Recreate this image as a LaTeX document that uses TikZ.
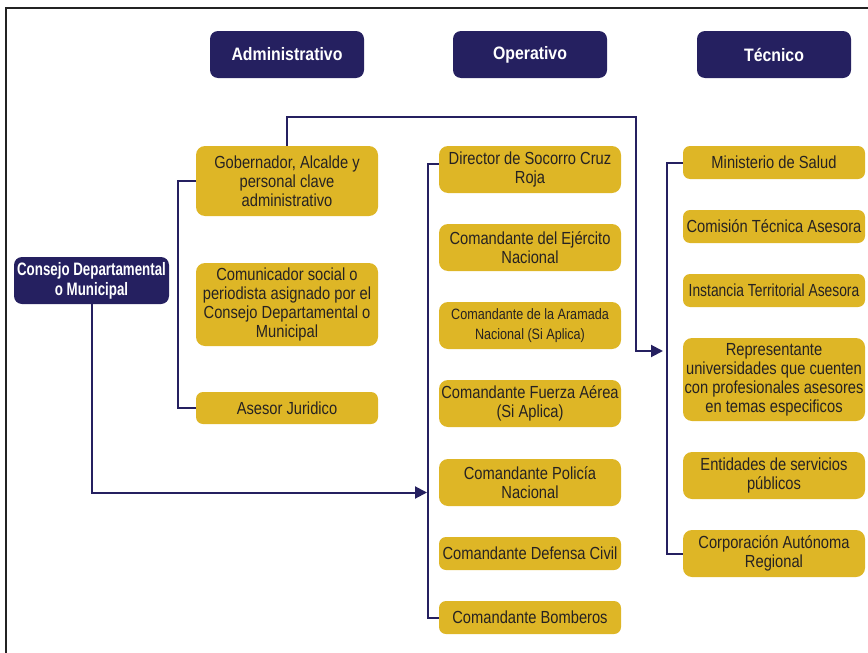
\documentclass[tikz,border=0pt]{standalone}
\usepackage{fontspec}
\usetikzlibrary{arrows.meta}
\newfontfamily\nf{Liberation Sans}[FakeStretch=0.84]
\newfontfamily\nnf{Liberation Sans}[FakeStretch=0.79]
\newfontfamily\hf{Liberation Sans}[FakeStretch=0.88]
\newfontfamily\cf{Liberation Sans}[FakeStretch=0.74]
\definecolor{navy}{RGB}{37,32,96}
\definecolor{gold}{RGB}{222,182,38}
\definecolor{ink}{RGB}{38,34,34}
\definecolor{framec}{RGB}{35,35,35}
\begin{document}
\begin{tikzpicture}[x=1pt,y=-1pt,
  head/.style={fill=navy, rounded corners=8pt, minimum width=154pt, minimum height=47pt, inner sep=0pt, text=white, align=center, font=\hf\bfseries\fontsize{18}{20}\selectfont},
  council/.style={fill=navy, rounded corners=8pt, minimum width=155pt, minimum height=47pt, inner sep=0pt, text=white, align=center, font=\cf\bfseries\fontsize{18}{20}\selectfont},
  ybox/.style={fill=gold, rounded corners=9pt, minimum width=182pt, inner sep=0pt, text=ink, align=center, font=\nf\fontsize{17.5}{19}\selectfont},
  ysmall/.style={ybox, font=\nf\fontsize{15}{20}\selectfont},
  link/.style={draw=navy, line width=2pt},
  arr/.style={link, -{Triangle[length=12pt,width=12pt]}}
]
\useasboundingbox (0,0) rectangle (868,653);
\draw[framec, line width=2pt] (5.5,665) -- (5.5,7.5) -- (880,7.5);

% headers
\node[head] (hadm) at (287,54.5) {Administrativo};
\node[head] (hope) at (530,54.5) {Operativo};
\node[head] (htec) at (774,54.5) {Técnico};

% council
\node[council] (cons) at (91.5,280.5) {Consejo Departamental\\o Municipal};

% column 1
\node[ybox, minimum height=70pt] (gob) at (287,181) {Gobernador, Alcalde y\\personal clave\\administrativo};
\node[ybox, minimum height=83pt] (com) at (287,304.5) {Comunicador social o\\periodista asignado por el\\Consejo Departamental o\\Municipal};
\node[ybox, minimum height=32pt, rounded corners=7pt] (ase) at (287,408) {Asesor Juridico};

% column 2
\node[ybox, minimum height=47pt] (dir) at (530,169.5) {Director de Socorro Cruz\\Roja};
\node[ybox, minimum height=47pt] (eje) at (530,247.5) {Comandante del Ejército\\Nacional};
\node[ysmall, minimum height=47pt] (arm) at (530,325.5) {Comandante de la Aramada\\Nacional (Si Aplica)};
\node[ybox, minimum height=47pt] (fue) at (530,403.5) {Comandante Fuerza Aérea\\(Si Aplica)};
\node[ybox, minimum height=47pt] (pol) at (530,482.5) {Comandante Policía\\Nacional};
\node[ybox, minimum height=33pt, rounded corners=7pt] (def) at (530,553.5) {Comandante Defensa Civil};
\node[ybox, minimum height=33pt, rounded corners=7pt] (bom) at (530,617.5) {Comandante Bomberos};

% column 3
\node[ybox, minimum height=33pt, rounded corners=7pt] (min) at (774,162.5) {Ministerio de Salud};
\node[ybox, minimum height=33pt, rounded corners=7pt] (comi) at (774,226.5) {Comisión Técnica Asesora};
\node[ybox, minimum height=33pt, rounded corners=7pt, font=\nnf\fontsize{17.5}{19}\selectfont] (ins) at (774,290.5) {Instancia Territorial Asesora};
\node[ybox, minimum height=83pt] (rep) at (774,379.5) {Representante\\universidades que cuenten\\con profesionales asesores\\en temas especificos};
\node[ybox, minimum height=47pt] (ent) at (774,475.5) {Entidades de servicios\\públicos};
\node[ybox, minimum height=47pt] (cor) at (774,553.5) {Corporación Autónoma\\Regional};

% connectors
\coordinate (opbus) at (427,492.5);
\coordinate (tecbus) at (663,351);
\coordinate (topright) at (636,117);

\draw[link] (gob.west) -- ++(-18,0) |- (ase.west);
\draw[link] ([yshift=5.5pt]dir.west) -- ++(-11,0) |- (bom.west);
\draw[link] (min.west) -- ++(-16,0) |- (cor.west);
\draw[arr] (cons.south) |- (opbus);
\draw[arr] (gob.north) |- (topright) |- (tecbus);
\end{tikzpicture}
\end{document}
